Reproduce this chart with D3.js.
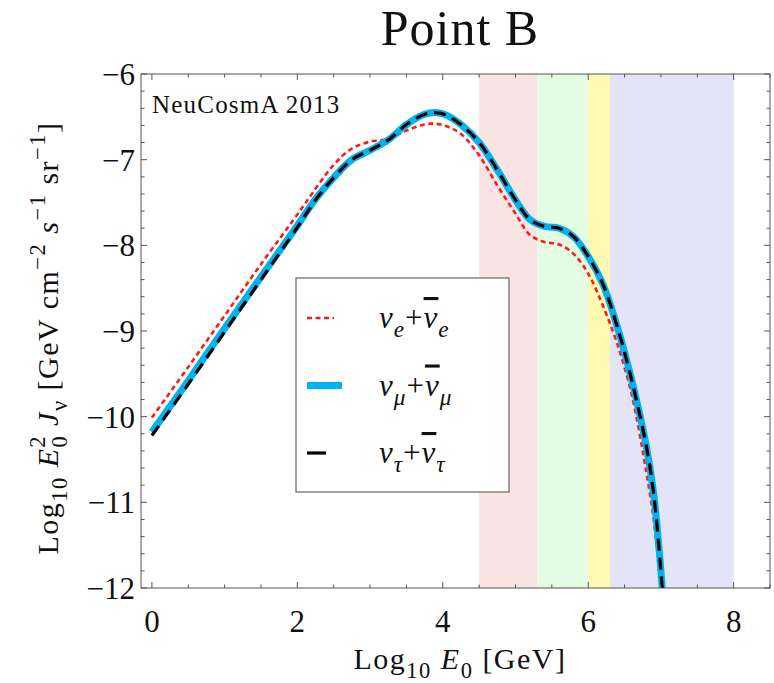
<!DOCTYPE html>
<html>
<head>
<meta charset="utf-8">
<script src="https://cdn.jsdelivr.net/npm/d3@7"></script>
<style>
  body { margin: 0; background: #fff; }
  text { font-family: "Liberation Serif", "DejaVu Serif", serif; fill: #111; }
</style>
</head>
<body>
<svg id="chart" width="774" height="683"></svg>
<script>

// log10 E0 [GeV] and log10 E0^2 J
var logE_e = [0, 0.5, 1.0, 1.5, 2.0, 2.15, 2.5, 2.75, 3.0, 3.25, 3.5, 3.75, 3.88, 4.05, 4.25, 4.5, 4.75, 5.0, 5.2, 5.4, 5.6, 5.8, 6.0, 6.2, 6.4, 6.6, 6.8, 6.9, 7.0, 7.05]
var flux_e = [-10.01, -9.42, -8.82, -8.22, -7.64, -7.46, -7.06, -6.87, -6.79, -6.76, -6.66, -6.59, -6.58, -6.61, -6.70, -6.95, -7.30, -7.63, -7.88, -7.96, -7.99, -8.10, -8.33, -8.70, -9.15, -9.75, -10.65, -11.2, -12.0, -12.4]

var logE_mu = [0, 0.5, 1.0, 1.5, 2.0, 2.25, 2.5, 2.75, 3.0, 3.25, 3.5, 3.75, 3.9, 4.05, 4.25, 4.5, 4.75, 5.0, 5.2, 5.4, 5.6, 5.8, 6.0, 6.2, 6.4, 6.6, 6.8, 6.9, 7.0, 7.05]
var flux_mu = [-10.18, -9.58, -8.97, -8.37, -7.77, -7.46, -7.21, -7.00, -6.89, -6.77, -6.59, -6.47, -6.45, -6.48, -6.59, -6.80, -7.12, -7.47, -7.70, -7.78, -7.80, -7.90, -8.13, -8.45, -8.95, -9.58, -10.35, -10.9, -11.8, -12.4]

var logE_tau = logE_mu
var flux_tau = [-10.22, -9.62, -9.01, -8.40, -7.79, -7.47, -7.21, -7.00, -6.89, -6.77, -6.59, -6.47, -6.45, -6.48, -6.59, -6.80, -7.12, -7.47, -7.70, -7.78, -7.80, -7.90, -8.13, -8.45, -8.95, -9.58, -10.35, -10.9, -11.8, -12.4]

// energy windows shaded behind the curves
var bandEdges = [4.5, 5.3, 6.0, 6.3, 8.0]

var xTicks = [0, 2, 4, 6, 8]
var yTicks = [-12, -11, -10, -9, -8, -7, -6]

var legendNames = ["e", "μ", "τ"]

var bandColors = ["#f9e3e3", "#e3fce3", "#fefab2", "#e4e4f8"]

var width = 774
var height = 683
var svg = d3.select("#chart")

var x = d3.scaleLinear().domain([-0.15, 8.5]).range([141, 770])
var y = d3.scaleLinear().domain([-12, -6]).range([588, 74])

svg.append("defs").append("clipPath").attr("id", "plotclip")
  .append("rect")
  .attr("x", x(-0.15)).attr("y", y(-6))
  .attr("width", x(8.5) - x(-0.15)).attr("height", y(-12) - y(-6))

// bands
svg.append("g")
  .selectAll("rect")
  .data(d3.pairs(bandEdges))
  .join("rect")
  .attr("x", d => x(d[0]))
  .attr("width", d => x(d[1]) - x(d[0]))
  .attr("y", y(-6))
  .attr("height", y(-12) - y(-6))
  .attr("fill", (d, i) => bandColors[i])

// curves
var line = d3.line()
  .x(d => x(d[0]))
  .y(d => y(d[1]))
  .curve(d3.curveCatmullRom.alpha(0.5))

var curves = svg.append("g").attr("clip-path", "url(#plotclip)")

curves.append("path")
  .attr("d", line(d3.zip(logE_e, flux_e)))
  .attr("fill", "none").attr("stroke", "#ff1a1a")
  .attr("stroke-width", 2.6).attr("stroke-dasharray", "5,3.5")

curves.append("path")
  .attr("d", line(d3.zip(logE_mu, flux_mu)))
  .attr("fill", "none").attr("stroke", "#00b2f0")
  .attr("stroke-width", 7)

curves.append("path")
  .attr("d", line(d3.zip(logE_tau, flux_tau)))
  .attr("fill", "none").attr("stroke", "#000")
  .attr("stroke-width", 3.2).attr("stroke-dasharray", "12,7")

// frame with ticks on all four sides
var frame = svg.append("g").attr("stroke", "#555").attr("stroke-width", 1)
frame.append("rect")
  .attr("x", x(-0.15)).attr("y", y(-6))
  .attr("width", x(8.5) - x(-0.15)).attr("height", y(-12) - y(-6))
  .attr("fill", "none")

var xMinor = d3.range(0, 8.51, 0.5)
var yMinor = d3.range(-12, -5.99, 0.2)

frame.selectAll("line.xt")
  .data(xMinor)
  .join("line").attr("class", "xt")
  .attr("x1", d => x(d)).attr("x2", d => x(d))
  .attr("y1", y(-12)).attr("y2", d => y(-12) - (xTicks.includes(d) ? 6 : 3.5))
frame.selectAll("line.xtt")
  .data(xMinor)
  .join("line").attr("class", "xtt")
  .attr("x1", d => x(d)).attr("x2", d => x(d))
  .attr("y1", y(-6)).attr("y2", d => y(-6) + (xTicks.includes(d) ? 6 : 3.5))

frame.selectAll("line.yt")
  .data(yMinor)
  .join("line").attr("class", "yt")
  .attr("x1", x(-0.15)).attr("x2", d => x(-0.15) + (Math.abs(d - Math.round(d)) < 1e-6 ? 6 : 3.5))
  .attr("y1", d => y(d)).attr("y2", d => y(d))
frame.selectAll("line.ytr")
  .data(yMinor)
  .join("line").attr("class", "ytr")
  .attr("x1", x(8.5)).attr("x2", d => x(8.5) - (Math.abs(d - Math.round(d)) < 1e-6 ? 6 : 3.5))
  .attr("y1", d => y(d)).attr("y2", d => y(d))

// tick labels
svg.append("g")
  .selectAll("text")
  .data(xTicks)
  .join("text")
  .attr("x", d => x(d)).attr("y", 632)
  .attr("text-anchor", "middle")
  .style("font-size", "31px")
  .text(d => d)

svg.append("g")
  .selectAll("text")
  .data(yTicks)
  .join("text")
  .attr("x", 135).attr("y", d => y(d)).attr("dy", "0.35em")
  .attr("text-anchor", "end")
  .style("font-size", "31px")
  .text(d => d3.format("d")(d).replace("-", "\u2212"))

// rich text helper: parts [text, kind, dx] where kind is "", "i", "sub", "sup", "isub", "ibar"
function rich(sel, parts, size) {
  var small = size * 0.75
  var shift = 0
  parts.forEach(function (p) {
    var t = sel.append("tspan").text(p[0])
    var kind = p[1] || ""
    var target = 0
    if (kind.indexOf("sub") >= 0) target = size * 0.3
    if (kind.indexOf("sup") >= 0) target = -size * 0.42
    t.attr("dy", target - shift)
    shift = target
    if (target !== 0) t.style("font-size", small + "px")
    if (kind.indexOf("i") === 0) t.style("font-style", "italic")
    if (kind.indexOf("bar") >= 0) t.style("text-decoration", "overline")
    if (p[2]) t.attr("dx", p[2])
  })
}

// title
svg.append("text")
  .attr("x", 460).attr("y", 45)
  .attr("text-anchor", "middle")
  .style("font-size", "50px")
  .style("letter-spacing", "1px")
  .text("Point B")

// x axis label
var xl = svg.append("text")
  .attr("x", 460).attr("y", 669)
  .attr("text-anchor", "middle")
  .style("font-size", "30px")
  .style("letter-spacing", "1.5px")
rich(xl, [["Log"], ["10", "sub"], [" "], ["E", "i"], ["0", "sub"], [" [GeV]"]], 30)

// y axis label
var yl = svg.append("text")
  .attr("transform", "translate(58,338) rotate(-90)")
  .attr("text-anchor", "middle")
  .style("font-size", "30px")
  .style("letter-spacing", "1.5px")
rich(yl, [["Log"], ["10", "sub"], [" "], ["E", "i"], ["0", "sub"], ["2", "sup", -13], [" J", "i"], ["ν", "sub"],
  [" [GeV cm"], ["−2", "sup"], [" s", "i"], ["−1", "sup"], [" sr"], ["−1", "sup"], ["]"]], 30)

// tag
svg.append("text")
  .attr("x", 152).attr("y", 113)
  .style("font-size", "25px")
  .style("letter-spacing", "1.2px")
  .text("NeuCosmA 2013")

// legend
var legend = svg.append("g")
legend.append("rect")
  .attr("x", 296).attr("y", 278).attr("width", 213).attr("height", 214)
  .attr("fill", "#fff").attr("stroke", "#666").attr("stroke-width", 1.2)

var legendStyles = [
  { stroke: "#ff1a1a", w: 2.6, dash: "5,3.5", len: 27 },
  { stroke: "#00b2f0", w: 7, dash: null, len: 35 },
  { stroke: "#000", w: 3.2, dash: "19,7", len: 19 }
]

legendNames.forEach(function (n, i) {
  var yy = 318 + i * 67.5
  var s = legendStyles[i]
  legend.append("line")
    .attr("x1", 307).attr("x2", 307 + s.len)
    .attr("y1", yy).attr("y2", yy)
    .attr("stroke", s.stroke).attr("stroke-width", s.w)
    .attr("stroke-dasharray", s.dash)
  var t = legend.append("text")
    .attr("x", 379).attr("y", yy + 10)
    .style("font-size", "31px")
    .style("letter-spacing", "1px")
  rich(t, [["ν", "i"], [n, "isub"], ["+"], ["ν", "ibar"], [n, "isub"]], 31)
})

</script>
</body>
</html>
